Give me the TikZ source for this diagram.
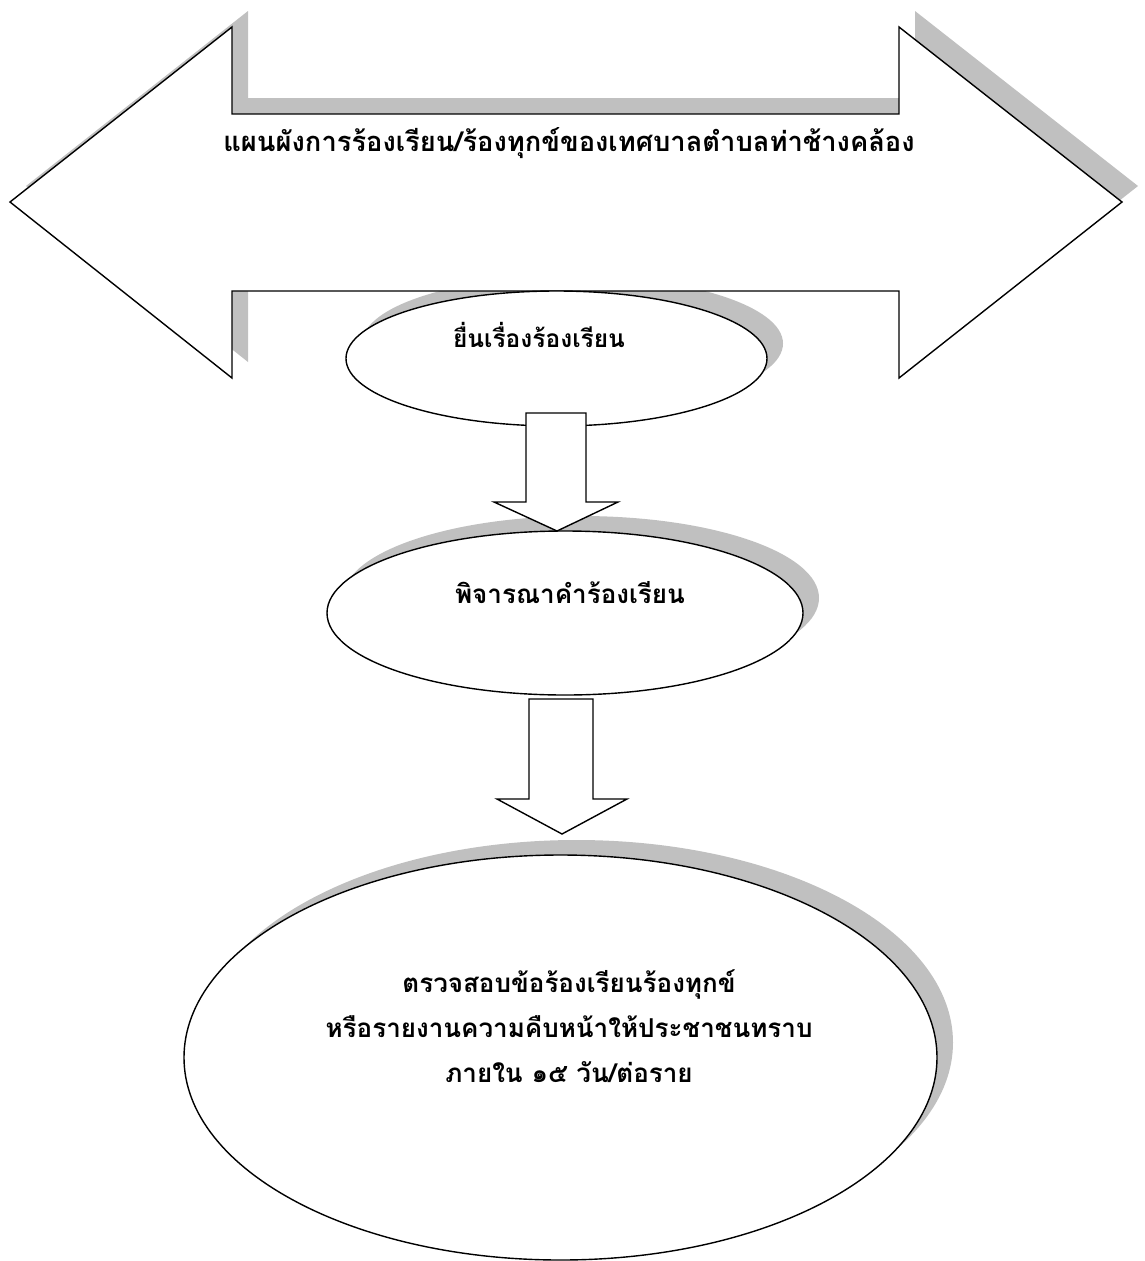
\documentclass[tikz,border=0pt]{standalone}
\usepackage{fontspec}
\newfontfamily\thaifont[Script=Thai]{Loma}
\usetikzlibrary{shapes.geometric,calc}
\definecolor{shadowgray}{RGB}{192,192,192}
\pgfdeclarelayer{shadowlayer}
\pgfsetlayers{shadowlayer,main}
\tikzset{
  outline/.style={draw=black, fill=white, line width=1.4pt, line join=miter},
  shadowfill/.style={fill=shadowgray},
  bubble/.style={ellipse, draw=black, fill=white, line width=1.4pt, inner sep=0pt},
  lbl/.style={font=\thaifont\bfseries\fontsize{26}{45}\selectfont, align=center, inner sep=0pt}
}
\begin{document}
\begin{tikzpicture}[x=1pt, y=-1pt]
\useasboundingbox (0,0) rectangle (1144,1261);
% banner (double arrow)
\draw[outline] (10,202) -- (232,27) -- (232,114) -- (899,114) -- (899,27) -- (1122,202)
  -- (899,378) -- (899,291) -- (232,291) -- (232,378) -- cycle;
\node[lbl, font=\thaifont\bfseries\fontsize{27.3}{45}\selectfont] (title) at (569,143) {แผนผังการร้องเรียน/ร้องทุกข์ของเทศบาลตำบลท่าช้างคล้อง};
% ellipses
\node[bubble, minimum width=421pt, minimum height=135pt] (e1) at (556.5,358.5) {};
\node[bubble, minimum width=476pt, minimum height=164pt] (e2) at (565,613) {};
\node[bubble, minimum width=753pt, minimum height=405pt] (e3) at (560.5,1057.5) {};
\node[lbl, font=\thaifont\bfseries\fontsize{24.5}{45}\selectfont] (t1) at (539,335) {ยื่นเรื่องร้องเรียน};
\node[lbl] (t2) at (570,593) {พิจารณาคำร้องเรียน};
\node[lbl] (t3) at (569,1026) {ตรวจสอบข้อร้องเรียนร้องทุกข์\\หรือรายงานความคืบหน้าให้ประชาชนทราบ\\ภายใน ๑๕ วัน/ต่อราย};
% block arrows
\coordinate (a1tip) at (557,531);
\coordinate (a2tip) at (562,834);
\draw[outline] (a1tip) -- ++(-63,-29) -- ++(32,0) -- ++(0,-89) -- ++(60,0) -- ++(0,89) -- ++(32,0) -- cycle;
\draw[outline] (a2tip) -- ++(-65,-35) -- ++(32,0) -- ++(0,-100) -- ++(64,0) -- ++(0,100) -- ++(34,0) -- cycle;
% shadows
\begin{pgfonlayer}{shadowlayer}
\fill[shadowfill, shift={(16,-16)}] (10,202) -- (232,27) -- (232,114) -- (899,114) -- (899,27) -- (1122,202)
  -- (899,378) -- (899,291) -- (232,291) -- (232,378) -- cycle;
\fill[shadowfill] ($(e1.center)+(16,-15)$) ellipse [x radius=210.5pt, y radius=67.5pt];
\fill[shadowfill] ($(e2.center)+(16,-15)$) ellipse [x radius=238pt, y radius=82pt];
\fill[shadowfill] ($(e3.center)+(16,-15)$) ellipse [x radius=376.5pt, y radius=202.5pt];
\end{pgfonlayer}
\end{tikzpicture}
\end{document}
